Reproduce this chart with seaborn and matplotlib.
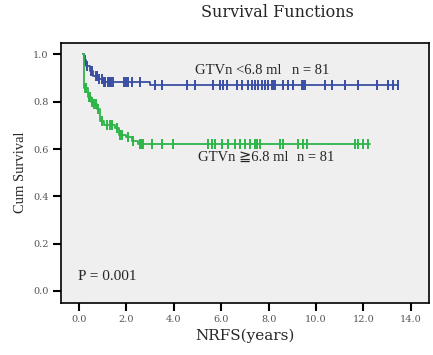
import matplotlib
matplotlib.use("Agg")
import matplotlib.pyplot as plt
import numpy as np
import seaborn as sns

# Kaplan-Meier step data (time in years, cumulative survival)
low_times = [0.15, 0.2, 0.3, 0.45, 0.6, 0.8, 1.0, 3.0, 13.47]
low_surv = [1.0, 0.975, 0.95, 0.93, 0.91, 0.895, 0.885, 0.87, 0.87]
low_censor = [0.25, 0.35, 0.5, 0.55, 0.7, 0.75, 0.85, 0.95, 1.05, 1.1, 1.2, 1.25,
              1.3, 1.35, 1.45, 1.9, 2.0, 2.07, 2.22, 2.57,
              3.21, 3.49, 4.54, 4.89, 5.67, 5.95, 6.09, 6.23, 6.65, 6.86, 7.14,
              7.29, 7.43, 7.57, 7.71, 7.85, 7.99, 8.13, 8.2, 8.27, 8.62, 8.83,
              9.04, 9.4, 9.46, 9.53, 10.38, 10.66, 11.22, 11.78, 12.56, 13.05,
              13.26, 13.47]

high_times = [0.15, 0.2, 0.38, 0.5, 0.6, 0.75, 0.89, 1.05, 1.5, 1.7, 2.0, 2.25,
              2.5, 12.28]
high_surv = [1.0, 0.86, 0.82, 0.80, 0.79, 0.77, 0.72, 0.70, 0.69, 0.66, 0.65,
             0.632, 0.62, 0.62]
high_censor = [0.25, 0.3, 0.4, 0.45, 0.55, 0.65, 0.7, 0.8, 0.95, 1.17, 1.3, 1.38,
               1.59, 1.73, 1.8, 2.08, 2.29, 2.57, 2.62, 2.68,
               3.07, 3.49, 3.98, 5.46, 5.6, 5.74, 6.02, 6.3, 6.58, 6.79, 7.0,
               7.22, 7.43, 7.5, 7.64, 8.48, 8.62, 9.25, 9.46, 9.61, 11.65,
               11.78, 11.99, 12.21]

x_ticks = [0, 2, 4, 6, 8, 10, 12, 14]
y_ticks = [0.0, 0.2, 0.4, 0.6, 0.8, 1.0]

BLUE = "#3A4FA3"
GREEN = "#2EB548"


def step_value(times, surv, t):
    idx = np.searchsorted(times, t, side="right") - 1
    return np.array(surv)[np.clip(idx, 0, len(surv) - 1)]


sns.set_style("white")
fig = plt.figure(figsize=(4.33, 3.55), dpi=100)
ax = fig.add_axes([0.141, 0.147, 0.850, 0.733])
ax.set_facecolor("#EFEFEF")

for times, surv, cens, col in [(low_times, low_surv, low_censor, BLUE),
                               (high_times, high_surv, high_censor, GREEN)]:
    sns.lineplot(x=times, y=surv, drawstyle="steps-post", color=col,
                 estimator=None, sort=False, linewidth=1.3, ax=ax)
    sns.scatterplot(x=cens, y=step_value(times, surv, np.array(cens)),
                    marker="|", s=45, linewidth=1.4, color=col, ax=ax)

ax.set_xlim(-0.76, 14.77)
ax.set_ylim(-0.05, 1.05)
ax.set_xticks(x_ticks)
ax.set_xticklabels([f"{v:.1f}" for v in x_ticks])
ax.set_yticks(y_ticks)
ax.set_yticklabels([f"{v:.1f}" for v in y_ticks])
ax.tick_params(bottom=True, left=True, direction="out", length=6, width=1.5,
               color="black", labelsize=7, labelcolor="#555555", pad=3)
for lab in ax.get_xticklabels() + ax.get_yticklabels():
    lab.set_family("DejaVu Serif")
for sp in ax.spines.values():
    sp.set_color("black")
    sp.set_linewidth(1.2)

ax.set_xlabel("NRFS(years)", family="DejaVu Serif", fontsize=11, labelpad=3)
ax.set_ylabel("Cum Survival", family="Liberation Serif", fontsize=10.5,
              labelpad=4)
fig.text(0.64, 0.965, "Survival Functions", family="DejaVu Serif",
         fontsize=11.5, ha="center", va="center")

serif = "Liberation Serif"
ax.text(4.9, 0.934, "GTVn <6.8 ml", family=serif, fontsize=10.5, va="center")
ax.text(9.0, 0.934, "n = 81", family=serif, fontsize=10.5, va="center")
ax.text(5.0, 0.563, "GTVn ≧6.8 ml", family=[serif, "DejaVu Sans"],
        fontsize=10.5, va="center")
ax.text(9.2, 0.563, "n = 81", family=serif, fontsize=10.5, va="center")
ax.text(-0.05, 0.062, "P = 0.001", family=serif, fontsize=11, va="center")

fig.savefig("out.png", dpi=100)
